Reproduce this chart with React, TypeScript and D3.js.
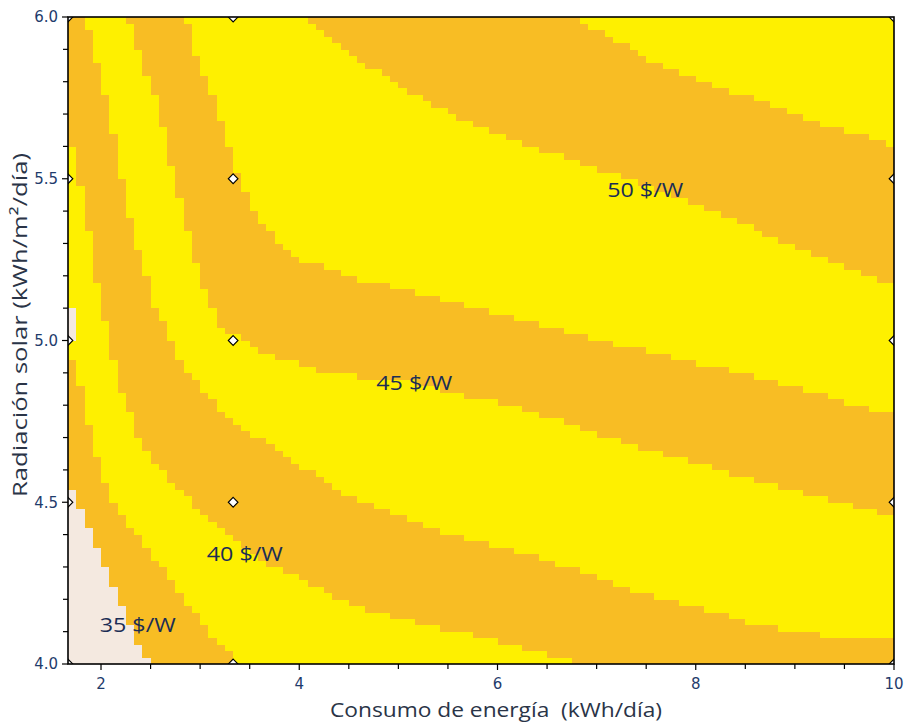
import React from 'react';
import * as d3 from 'd3';

// ---- data ----
const xMajorTicks = [2, 4, 6, 8, 10];
const yMajorTicks = [4.0, 4.5, 5.0, 5.5, 6.0];
const designX = [1.667, 3.333, 10];
const designY = [4.0, 4.5, 5.0, 5.5, 6.0];
const levels = [35, 37.5, 40, 42.5, 45, 47.5, 50, 52.5];

// contour boundaries [consumo, radiación]
const b350 = [[1.67, 4.55], [1.77, 4.5], [1.89, 4.41], [2.01, 4.32], [2.17, 4.2], [2.33, 4.09], [2.5, 4.0]];
const b375 = [[1.67, 4.99], [1.77, 4.88], [1.87, 4.75], [1.99, 4.61], [2.14, 4.49], [2.35, 4.4], [2.59, 4.31], [2.85, 4.2], [3.1, 4.09], [3.4, 4.0]];
const b400 = [[1.67, 5.64], [1.77, 5.53], [1.87, 5.34], [1.99, 5.13], [2.14, 4.91], [2.35, 4.72], [2.6, 4.6], [3.0, 4.47], [3.25, 4.4], [3.68, 4.31], [4.0, 4.27], [4.35, 4.21], [4.79, 4.16], [5.43, 4.11], [6.27, 4.05], [6.9, 4.0]];
const b425 = [[1.83, 6.0], [1.92, 5.93], [1.99, 5.81], [2.07, 5.72], [2.19, 5.53], [2.35, 5.31], [2.55, 5.1], [2.85, 4.91], [3.25, 4.77], [3.91, 4.63], [4.62, 4.5], [5.42, 4.41], [6.62, 4.31], [7.25, 4.24], [7.87, 4.19], [8.63, 4.12], [9.44, 4.08], [10.0, 4.07]];
const b450 = [[2.27, 6.0], [2.34, 5.93], [2.43, 5.85], [2.52, 5.78], [2.59, 5.72], [2.7, 5.56], [2.85, 5.37], [3.0, 5.19], [3.2, 5.05], [3.61, 4.96], [4.31, 4.9], [5.17, 4.87], [6.23, 4.79], [7.54, 4.66], [8.85, 4.55], [10.0, 4.46]];
const b475 = [[2.85, 6.0], [2.91, 5.93], [3.0, 5.85], [3.08, 5.78], [3.18, 5.72], [3.35, 5.53], [3.61, 5.36], [4.01, 5.25], [4.62, 5.19], [5.17, 5.15], [6.03, 5.08], [7.04, 5.0], [8.04, 4.93], [8.85, 4.87], [10.0, 4.77]];
const b500 = [[4.0, 6.0], [4.18, 5.96], [4.35, 5.92], [4.51, 5.88], [4.76, 5.84], [4.94, 5.8], [5.16, 5.76], [5.38, 5.72], [6.03, 5.64], [6.53, 5.58], [7.04, 5.53], [7.54, 5.48], [8.04, 5.42], [8.85, 5.31], [10.0, 5.17]];
const b525 = [[6.8, 6.0], [7.11, 5.94], [7.36, 5.9], [7.6, 5.86], [7.92, 5.82], [8.28, 5.78], [8.63, 5.74], [8.85, 5.72], [9.28, 5.67], [9.74, 5.63], [10.0, 5.6]];
const boundaries = [b350, b375, b400, b425, b450, b475, b500, b525];
// small low-value pocket on the left edge
const lowPocket = [[1.667, 5.0], [1.75, 5.0], [1.75, 5.1], [1.667, 5.1]];

const labelText = ['35 $/W', '40 $/W', '45 $/W', '50 $/W'];
const labelX = [2.37, 3.45, 5.16, 7.49];
const labelY = [4.12, 4.34, 4.87, 5.465];

const COLORS = { low: '#F4E9E0', orange: '#F8BD24', yellow: '#FEF000' };

function closePoly(pts: number[][], x0: number, x1: number, y0: number, y1: number) {
  const tol = 0.01;
  const first = pts[0];
  const last = pts[pts.length - 1];
  const poly: number[][] = [[x0 - 1, y0 - 1]];
  if (Math.abs(first[1] - y1) < tol) {
    poly.push([x0 - 1, y1 + 1]);
    poly.push([first[0], y1 + 1]);
  } else {
    poly.push([x0 - 1, first[1]]);
  }
  pts.forEach(p => poly.push(p));
  if (Math.abs(last[0] - x1) < tol) {
    poly.push([x1 + 1, last[1]]);
    poly.push([x1 + 1, y0 - 1]);
  } else {
    poly.push([last[0], y0 - 1]);
  }
  return poly as [number, number][];
}

export default function App() {
  const W = 904, H = 723;
  const left = 68, right = 894, top = 17, bottom = 664;
  const x = d3.scaleLinear().domain([1.667, 10]).range([left, right]);
  const y = d3.scaleLinear().domain([4, 6]).range([bottom, top]);
  const [x0, x1] = x.domain();
  const [y0, y1] = y.domain();
  const polys = boundaries.map(b => closePoly(b, x0, x1, y0, y1));
  const pocket = lowPocket.map(p => [p[0] - 0.001, p[1]]) as [number, number][];

  const nx = 100, ny = 100;
  const dx = (x1 - x0) / nx, dy = (y1 - y0) / ny;
  const runs: { i0: number; i1: number; j: number; k: number }[] = [];
  for (let j = 0; j < ny; j++) {
    const yc = y0 + (j + 0.5) * dy;
    let start = 0, runK = -1;
    for (let i = 0; i <= nx; i++) {
      let k = -2;
      if (i < nx) {
        const xc = x0 + (i + 0.5) * dx;
        k = 0;
        if (!d3.polygonContains(pocket, [xc, yc])) {
          polys.forEach(p => { if (!d3.polygonContains(p, [xc, yc])) k += 1; });
        }
      }
      if (k !== runK) {
        if (runK >= 0) runs.push({ i0: start, i1: i, j, k: runK });
        start = i;
        runK = k;
      }
    }
  }
  const colorOf = (k: number) => (k === 0 ? COLORS.low : k % 2 === 1 ? COLORS.orange : COLORS.yellow);

  const xMinor = d3.range(2, 10.001, 0.5).filter(v => !xMajorTicks.includes(v));
  const yMinor = d3.range(4, 6.0001, 0.1).map(v => +v.toFixed(1)).filter(v => !yMajorTicks.includes(v));
  const points = designX.flatMap(px => designY.map(py => [px, py]));
  const diamond = d3.symbol().type(d3.symbolDiamond2).size(60);

  const tickFont = '"DejaVu Sans", sans-serif';
  const titleFont = '"Open Sans", sans-serif';
  const tickColor = '#1f3c6c';

  return (
    <svg width={W} height={H} style={{ position: 'absolute', left: 0, top: 0, background: '#fff' }} xmlns="http://www.w3.org/2000/svg">
      <defs>
        <clipPath id="plotClip">
          <rect x={left} y={top} width={right - left} height={bottom - top} />
        </clipPath>
      </defs>
      <g shapeRendering="crispEdges">
        {runs.map((r, idx) => {
          const xa = x(x0 + r.i0 * dx), xb = x(x0 + r.i1 * dx);
          const ya = y(y0 + (r.j + 1) * dy), yb = y(y0 + r.j * dy);
          return <rect key={idx} x={xa} y={ya} width={xb - xa} height={yb - ya + 0.3} fill={colorOf(r.k)} />;
        })}
      </g>
      <g clipPath="url(#plotClip)">
        {points.map((p, i) => (
          <path key={i} d={diamond() as string} transform={`translate(${x(p[0])},${y(p[1])})`} fill="#fff" stroke="#000" strokeWidth={1.1} />
        ))}
      </g>
      {labelText.map((t, i) => (
        <text key={t} x={x(labelX[i])} y={y(labelY[i])} dy="0.35em" textAnchor="middle" fontFamily={titleFont} fontSize={20} fill="#1b2d55" textLength={76} lengthAdjust="spacingAndGlyphs">{t}</text>
      ))}
      <rect x={left} y={top} width={right - left} height={bottom - top} fill="none" stroke="#000" strokeWidth={1.6} />
      <g stroke="#000" strokeWidth={1.2}>
        {xMajorTicks.map(t => <line key={'xM' + t} x1={x(t)} x2={x(t)} y1={bottom} y2={bottom + 6} />)}
        {xMinor.map(t => <line key={'xm' + t} x1={x(t)} x2={x(t)} y1={bottom} y2={bottom + 5} />)}
        {yMajorTicks.map(t => <line key={'yM' + t} x1={left - 6} x2={left} y1={y(t)} y2={y(t)} />)}
        {yMinor.map(t => <line key={'ym' + t} x1={left - 5} x2={left} y1={y(t)} y2={y(t)} />)}
      </g>
      {xMajorTicks.map(t => (
        <text key={'xl' + t} x={x(t)} y={bottom + 25} textAnchor="middle" fontFamily={tickFont} fontSize={15} fill={tickColor}>{t}</text>
      ))}
      {yMajorTicks.map(t => (
        <text key={'yl' + t} x={left - 10} y={y(t)} dy="0.36em" textAnchor="end" fontFamily={tickFont} fontSize={15} fill={tickColor}>{d3.format('.1f')(t)}</text>
      ))}
      <text x={496} y={717} textAnchor="middle" fontFamily={titleFont} fontSize={20} fill="#2a3447" textLength={332} lengthAdjust="spacingAndGlyphs">{'Consumo de energía\u00A0 (kWh/día)'}</text>
      <text transform={`translate(27,${325}) rotate(-90)`} textAnchor="middle" fontFamily={titleFont} fontSize={20} fill="#2a3447" textLength={344} lengthAdjust="spacingAndGlyphs">Radiación solar (kWh/m²/día)</text>
    </svg>
  );
}
